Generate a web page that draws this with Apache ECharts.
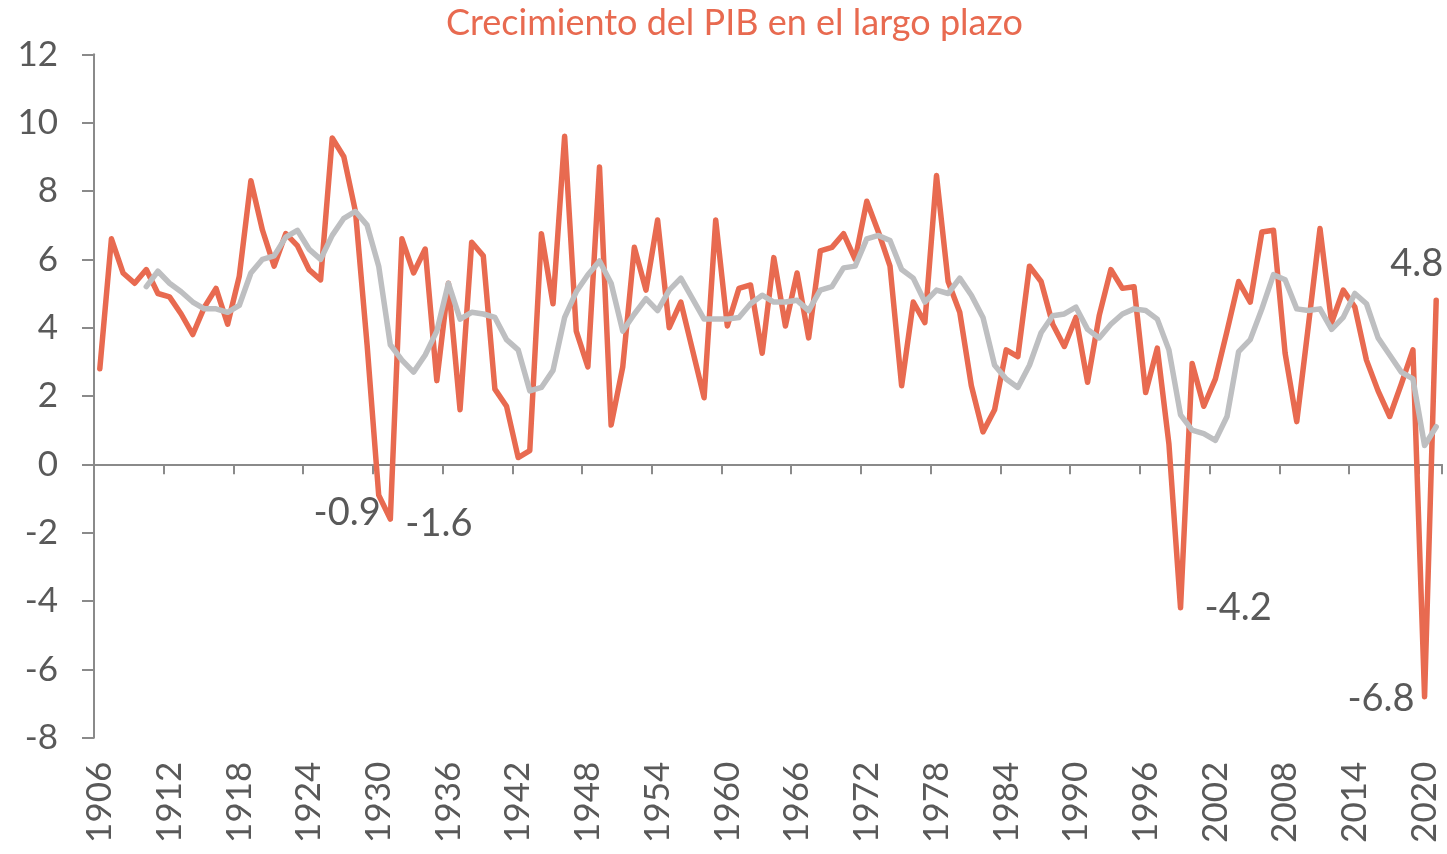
<!DOCTYPE html>
<html>
<head>
<meta charset="utf-8">
<script src="https://cdn.jsdelivr.net/npm/echarts@6.0.0/dist/echarts.min.js"></script>
<style>
html,body{margin:0;padding:0;background:#fff;}
#chart{width:1447px;height:854px;}
</style>
</head>
<body>
<div id="chart"></div>
<script>
const years = [
"1906","1907","1908","1909","1910","1911","1912","1913","1914","1915",
"1916","1917","1918","1919","1920","1921","1922","1923","1924","1925",
"1926","1927","1928","1929","1930","1931","1932","1933","1934","1935",
"1936","1937","1938","1939","1940","1941","1942","1943","1944","1945",
"1946","1947","1948","1949","1950","1951","1952","1953","1954","1955",
"1956","1957","1958","1959","1960","1961","1962","1963","1964","1965",
"1966","1967","1968","1969","1970","1971","1972","1973","1974","1975",
"1976","1977","1978","1979","1980","1981","1982","1983","1984","1985",
"1986","1987","1988","1989","1990","1991","1992","1993","1994","1995",
"1996","1997","1998","1999","2000","2001","2002","2003","2004","2005",
"2006","2007","2008","2009","2010","2011","2012","2013","2014","2015",
"2016","2017","2018","2019","2020","2021"];

// Crecimiento anual del PIB (%)
const gdpGrowth = [
2.8,6.6,5.6,5.3,5.7,5.0,4.9,4.4,3.8,4.6,
5.15,4.1,5.5,8.3,6.85,5.8,6.75,6.4,5.7,5.4,
9.55,9.0,7.4,3.5,-0.9,-1.6,6.6,5.6,6.3,2.45,
5.3,1.6,6.5,6.1,2.2,1.7,0.2,0.4,6.75,4.7,
9.6,3.9,2.85,8.7,1.15,2.85,6.35,5.1,7.15,4.0,
4.75,3.35,1.95,7.15,4.05,5.15,5.25,3.25,6.05,4.05,
5.6,3.7,6.25,6.35,6.75,6.0,7.7,6.8,5.8,2.3,
4.75,4.15,8.45,5.35,4.45,2.3,0.95,1.6,3.35,3.15,
5.8,5.35,4.1,3.45,4.3,2.4,4.35,5.7,5.15,5.2,
2.1,3.4,0.6,-4.2,2.95,1.7,2.5,3.9,5.35,4.75,
6.8,6.85,3.25,1.25,4.05,6.9,4.15,5.1,4.6,3.05,
2.15,1.4,2.35,3.35,-6.8,4.8];

// Tendencia (media móvil)
const trend = [
null,null,null,null,5.2,5.65,5.3,5.05,4.75,4.55,
4.55,4.45,4.65,5.6,6.0,6.1,6.65,6.85,6.3,6.0,
6.7,7.2,7.4,7.0,5.8,3.5,3.05,2.7,3.2,3.9,
5.3,4.25,4.45,4.4,4.3,3.65,3.35,2.15,2.25,2.75,
4.3,5.05,5.55,5.95,5.3,3.9,4.4,4.85,4.5,5.1,
5.45,4.85,4.25,4.25,4.25,4.3,4.7,4.95,4.75,4.75,
4.8,4.5,5.1,5.2,5.75,5.8,6.6,6.7,6.55,5.7,
5.45,4.75,5.1,5.0,5.45,4.95,4.3,2.9,2.5,2.25,
2.9,3.85,4.35,4.4,4.6,3.95,3.7,4.1,4.4,4.55,
4.5,4.25,3.35,1.45,1.0,0.9,0.7,1.4,3.3,3.65,
4.55,5.55,5.4,4.55,4.5,4.55,3.95,4.3,5.0,4.7,
3.7,3.2,2.7,2.5,0.55,1.1];

const labeledYears = ["1930","1931","1999","2020","2021"];

// label placement (style only)
const labelPlacement = {
  "1930": {position:'left',  offset:[7,18]},
  "1931": {position:'right', offset:[10,5]},
  "1999": {position:'right', offset:[19,0]},
  "2020": {position:'left',  offset:[-5,2]},
  "2021": {position:'left',  offset:[12,-37]}
};

const TEXT = '#595959';
const AXIS = '#8a8a8a';
const RED = '#E86A50';
const GRAY = '#BEBFC1';
const FONT = 'Lato';

const redData = gdpGrowth.map((v, i) => {
  const y = years[i];
  if (labeledYears.indexOf(y) >= 0) {
    const pl = labelPlacement[y];
    return {
      value: v,
      label: {
        show: true,
        position: pl.position,
        offset: pl.offset,
        formatter: p => Number(p.value).toFixed(1),
        fontSize: 38,
        color: TEXT,
        fontFamily: FONT
      }
    };
  }
  return v;
});

const chart = echarts.init(document.getElementById('chart'), null, {renderer:'canvas'});
chart.setOption({
  animation: false,
  backgroundColor: '#fff',
  title: {
    text: 'Crecimiento del PIB en el largo plazo',
    left: 441,
    top: 0,
    textStyle: {color: RED, fontSize: 36, fontWeight: 'normal', fontFamily: FONT}
  },
  grid: {left: 94, right: 5, top: 54.3, bottom: 116.3, containLabel: false, outerBoundsMode: 'none'},
  xAxis: [
    {
      type: 'category', gridIndex: 0, data: years, boundaryGap: true,
      axisLine: {show: true, onZero: true, lineStyle: {color: AXIS, width: 2}},
      axisTick: {show: true, interval: 5, length: 10, inside: false, lineStyle: {color: AXIS, width: 2}},
      axisLabel: {show: false},
      splitLine: {show: false}
    },
    {
      type: 'category', gridIndex: 0, data: years, boundaryGap: true, position: 'bottom',
      axisLine: {show: false, onZero: false},
      axisTick: {show: false},
      axisLabel: {show: true, rotate: 90, interval: 5, margin: 24, fontSize: 35, color: TEXT, fontFamily: FONT},
      splitLine: {show: false}
    }
  ],
  yAxis: {
    type: 'value', min: -8, max: 12, interval: 2,
    axisLine: {show: true, onZero: false, lineStyle: {color: AXIS, width: 2}},
    axisTick: {show: true, length: 12, lineStyle: {color: AXIS, width: 2}},
    axisLabel: {margin: 36, fontSize: 35, color: TEXT, fontFamily: FONT},
    splitLine: {show: false}
  },
  series: [
    {
      name: 'PIB', type: 'line', xAxisIndex: 0, data: redData,
      symbol: 'circle', symbolSize: 0, showSymbol: true, showAllSymbol: true,
      lineStyle: {color: RED, width: 5.5, join: 'round', cap: 'round'},
      itemStyle: {color: RED},
      z: 3, silent: true
    },
    {
      name: 'Tendencia', type: 'line', xAxisIndex: 0, data: trend,
      symbol: 'none', connectNulls: false,
      lineStyle: {color: GRAY, width: 5.5, join: 'round', cap: 'round'},
      itemStyle: {color: GRAY},
      z: 4, silent: true
    }
  ]
});
</script>
</body>
</html>
